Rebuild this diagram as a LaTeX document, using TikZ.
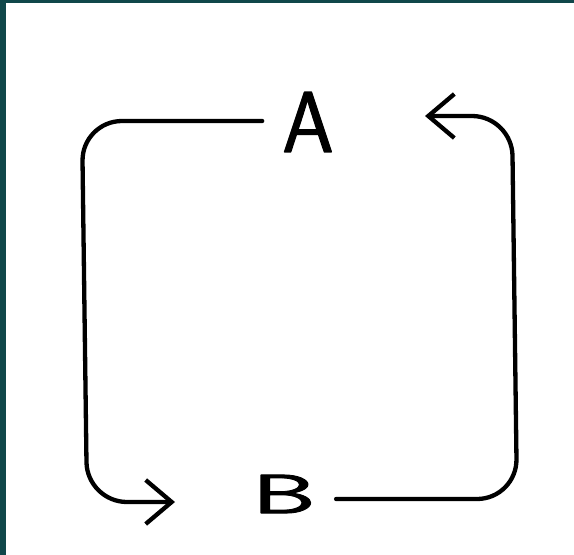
\documentclass[tikz,border=0pt]{standalone}
\usepackage{tikz}
\usepackage{fontspec}
\usetikzlibrary{arrows.meta}
\newfontfamily\handfont{Latin Modern Sans}[FakeBold=1.5]
\definecolor{frameteal}{HTML}{10474A}
\tikzset{
  every picture/.style={line join=round, line cap=round},
  link/.style={line width=4.3pt, rounded corners=40pt},
  barb/.style={-{Straight Barb[length=26pt,width=44pt,line width=4.3pt]}},
  letter/.style={inner sep=0pt, font=\handfont},
}
\begin{document}
\begin{tikzpicture}[x=1pt,y=-1pt]
\useasboundingbox (0,0) rectangle (574,555);
\fill[white](0,0) rectangle (574,555);
\fill[frameteal](0,0) rectangle (574,3);
\fill[frameteal](0,0) rectangle (6,555);
\node[letter,xscale=1.0,yscale=1.05] (A) at (308,122) {\fontsize{82}{82}\selectfont A};
\node[letter,xscale=1.75,yscale=0.95] (B) at (284,494) {\fontsize{58}{58}\selectfont B};
\coordinate (lefttop) at (82,121);
\coordinate (leftbot) at (87,502);
\coordinate (tipB) at (175,502);
\coordinate (rightbot) at (517,499);
\coordinate (righttop) at (512,116);
\coordinate (tipA) at (425,116);
\draw[link,barb] ([xshift=-20pt,yshift=1pt]A.west) -- (lefttop) -- (leftbot) -- (tipB);
\draw[link,barb] ([xshift=20pt,yshift=-5pt]B.east) -- (rightbot) -- (righttop) -- (tipA);
\end{tikzpicture}
\end{document}
